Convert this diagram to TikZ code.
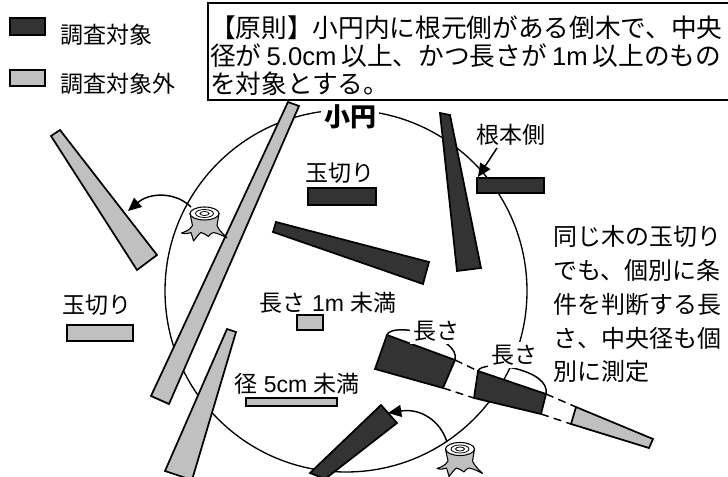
\documentclass[tikz,border=0pt]{standalone}
\usepackage{fontspec}
\setmainfont{Noto Sans CJK JP}
\newfontfamily\lat{Liberation Sans}
\usetikzlibrary{arrows.meta}
\definecolor{dk}{HTML}{333333}
\definecolor{lt}{HTML}{C0C0C0}
\newcommand\myfs[1]{\fontsize{#1pt}{#1pt}\selectfont}
\newcommand\jsp{\kern3.8pt}
\begin{document}
\begin{tikzpicture}[x=0.75pt,y=-0.75pt,
  dkshape/.style={fill=dk,draw=black,line width=1.3pt,line join=miter},
  ltshape/.style={fill=lt,draw=black,line width=1.3pt,line join=miter},
  lbl/.style={inner sep=0pt,font=\myfs{17.25}},
  boxtxt/.style={inner sep=0pt,anchor=base west,font=\myfs{19.25}},
  rtxt/.style={inner sep=0pt,anchor=base west,font=\myfs{18}},
  dashln/.style={line width=1.1pt,dash pattern=on 6pt off 4pt},
  arr/.style={line width=1.1pt,-{Triangle[length=10pt,width=9pt]}},
  brk/.style={line width=1.1pt},
  wlbl/.style={lbl,fill=white,inner sep=2pt}
]
\useasboundingbox (0,0) rectangle (728,477);

% small circle
\node[circle,draw=none,minimum size=1pt,inner sep=0pt] (cc) at (346,291) {};
\draw[line width=1pt] (cc) circle[radius=181];

% grey poles (outside target)
\draw[ltshape] (51,136) -- (60,130) -- (157,255) -- (137,270) -- cycle;
\draw[ltshape] (288,102) -- (299,106) -- (169,404) -- (151,396) -- cycle;
\draw[ltshape] (227,329) -- (236,332) -- (192,480) -- (165,471) -- cycle;

% dark poles (target)
\draw[dkshape] (440,113) -- (450,115) -- (481,268) -- (457,271) -- cycle;
\draw[dkshape] (276,222) -- (429,262) -- (423,284) -- (273,232) -- cycle;
\draw[dkshape] (381,405) -- (397,423) -- (325,479) -- (310,473) -- cycle;

% rectangles
\draw[dkshape] (477,178) rectangle (544,193);
\draw[dkshape] (308,188) rectangle (376,205);
\draw[ltshape] (297,315) rectangle (323,330);
\draw[ltshape] (67,325) rectangle (133,341);
\draw[ltshape] (246,398) rectangle (337,406);

% cut pieces of one tree
\coordinate (A1) at (387,335); \coordinate (A2) at (455,360);
\coordinate (A3) at (443,388); \coordinate (A4) at (375,369);
\coordinate (B1) at (478,371); \coordinate (B2) at (546,394);
\coordinate (B3) at (541,414); \coordinate (B4) at (474,398);
\coordinate (C1) at (576,407); \coordinate (C2) at (653,439);
\coordinate (C3) at (649,448); \coordinate (C4) at (571,424);
\draw[dkshape] (A1) -- (A2) -- (A3) -- (A4) -- cycle;
\draw[dkshape] (B1) -- (B2) -- (B3) -- (B4) -- cycle;
\draw[ltshape] (C1) -- (C2) -- (C3) -- (C4) -- cycle;
\draw[dashln] (A2) -- (B1);
\draw[dashln] (A3) -- (B4);
\draw[dashln] (B2) -- (C1);
\draw[dashln] (B3) -- (C4);

% stumps
\foreach \sx/\sy/\nm in {204.5/213.5/s1, 460/449/s2}{
  \begin{scope}[shift={(\sx,\sy)}]
    \draw[fill=lt,line width=0.8pt,line join=round]
      (-14.5,0) -- (-12,12) .. controls (-15,17) and (-19,18) .. (-23,19.5)
      .. controls (-19,21) and (-15,19.5) .. (-13.5,19)
      .. controls (-12,22) and (-12,25) .. (-11,27.5)
      .. controls (-8,24) and (-6,20.5) .. (-3.5,19)
      .. controls (-1,20) and (2,21) .. (4,23)
      .. controls (5,21) and (7,19.5) .. (9,19)
      .. controls (14,20) and (18,22) .. (22.5,24.5)
      .. controls (18,20) and (14,16) .. (12.5,12) -- (14.5,0) -- cycle;
    \draw[fill=white,line width=0.8pt] (0,0) ellipse (14.5 and 6.5);
    \draw[line width=0.6pt] (0,0) ellipse (9 and 4);
    \draw[line width=0.6pt] (0,0) ellipse (4.5 and 2);
    \coordinate (\nm) at (0,0);
  \end{scope}
}
\coordinate (s1a) at (191,207);
\coordinate (p1a) at (128,211);
\coordinate (s2a) at (447,442);
\coordinate (p6a) at (388,413);
\draw[arr] (s1a) .. controls (176,192) and (150,192) .. (p1a);
\draw[arr] (s2a) .. controls (440,420) and (420,408) .. (p6a);

% length brackets
\draw[brk] (A1) .. controls (392,321) and (461,337) .. (A2);
\draw[brk] (B1) .. controls (482,359) and (551,369) .. (B2);

% labels
\node[wlbl] (lenA) at (436,331) {長さ};
\node[wlbl] (lenB) at (514,355) {長さ};
\node[fill=white,inner sep=2pt,font=\myfs{19.5}\bfseries] (sc) at (350,117) {小円};
\node[lbl] (root) at (511,135) {根本側};
\coordinate (rootr) at (478,177);
\draw[arr] (497,148) -- (rootr);
\node[lbl] (tgA) at (340,173) {玉切り};
\node[lbl] (tgB) at (97,305) {玉切り};
\node[lbl] (len1) at (328,303) {長さ{\lat\ 1m }未満};
\node[lbl] (dia5) at (297,384) {径{\lat\ 5cm }未満};

% right text
\node[rtxt] (r1) at (553,246) {同じ木の玉切り};
\node[rtxt] (r2) at (553,280) {でも、個別に条};
\node[rtxt] (r3) at (553,314) {件を判断する長};
\node[rtxt] (r4) at (553,347) {さ、中央径も個};
\node[rtxt] (r5) at (553,380) {別に測定};

% principle box
\draw[line width=1.1pt] (208,3) rectangle (731,100);
\node[boxtxt] (t1) at (210,37.5) {【原則】小円内に根元側がある倒木で、中央};
\node[boxtxt] (t2) at (210,65.5) {径が\jsp{}{\lat 5.0cm}\jsp{}以上、かつ長さが\jsp{}{\lat 1m}\jsp{}以上のもの};
\node[boxtxt] (t3) at (210,93.5) {を対象とする。};

% legend
\draw[dkshape] (10,18) rectangle (45,35);
\draw[ltshape] (10,70) rectangle (45,86);
\node[lbl,anchor=west] (lg1) at (60,35) {調査対象};
\node[lbl,anchor=west] (lg2) at (60,84) {調査対象外};
\end{tikzpicture}
\end{document}
